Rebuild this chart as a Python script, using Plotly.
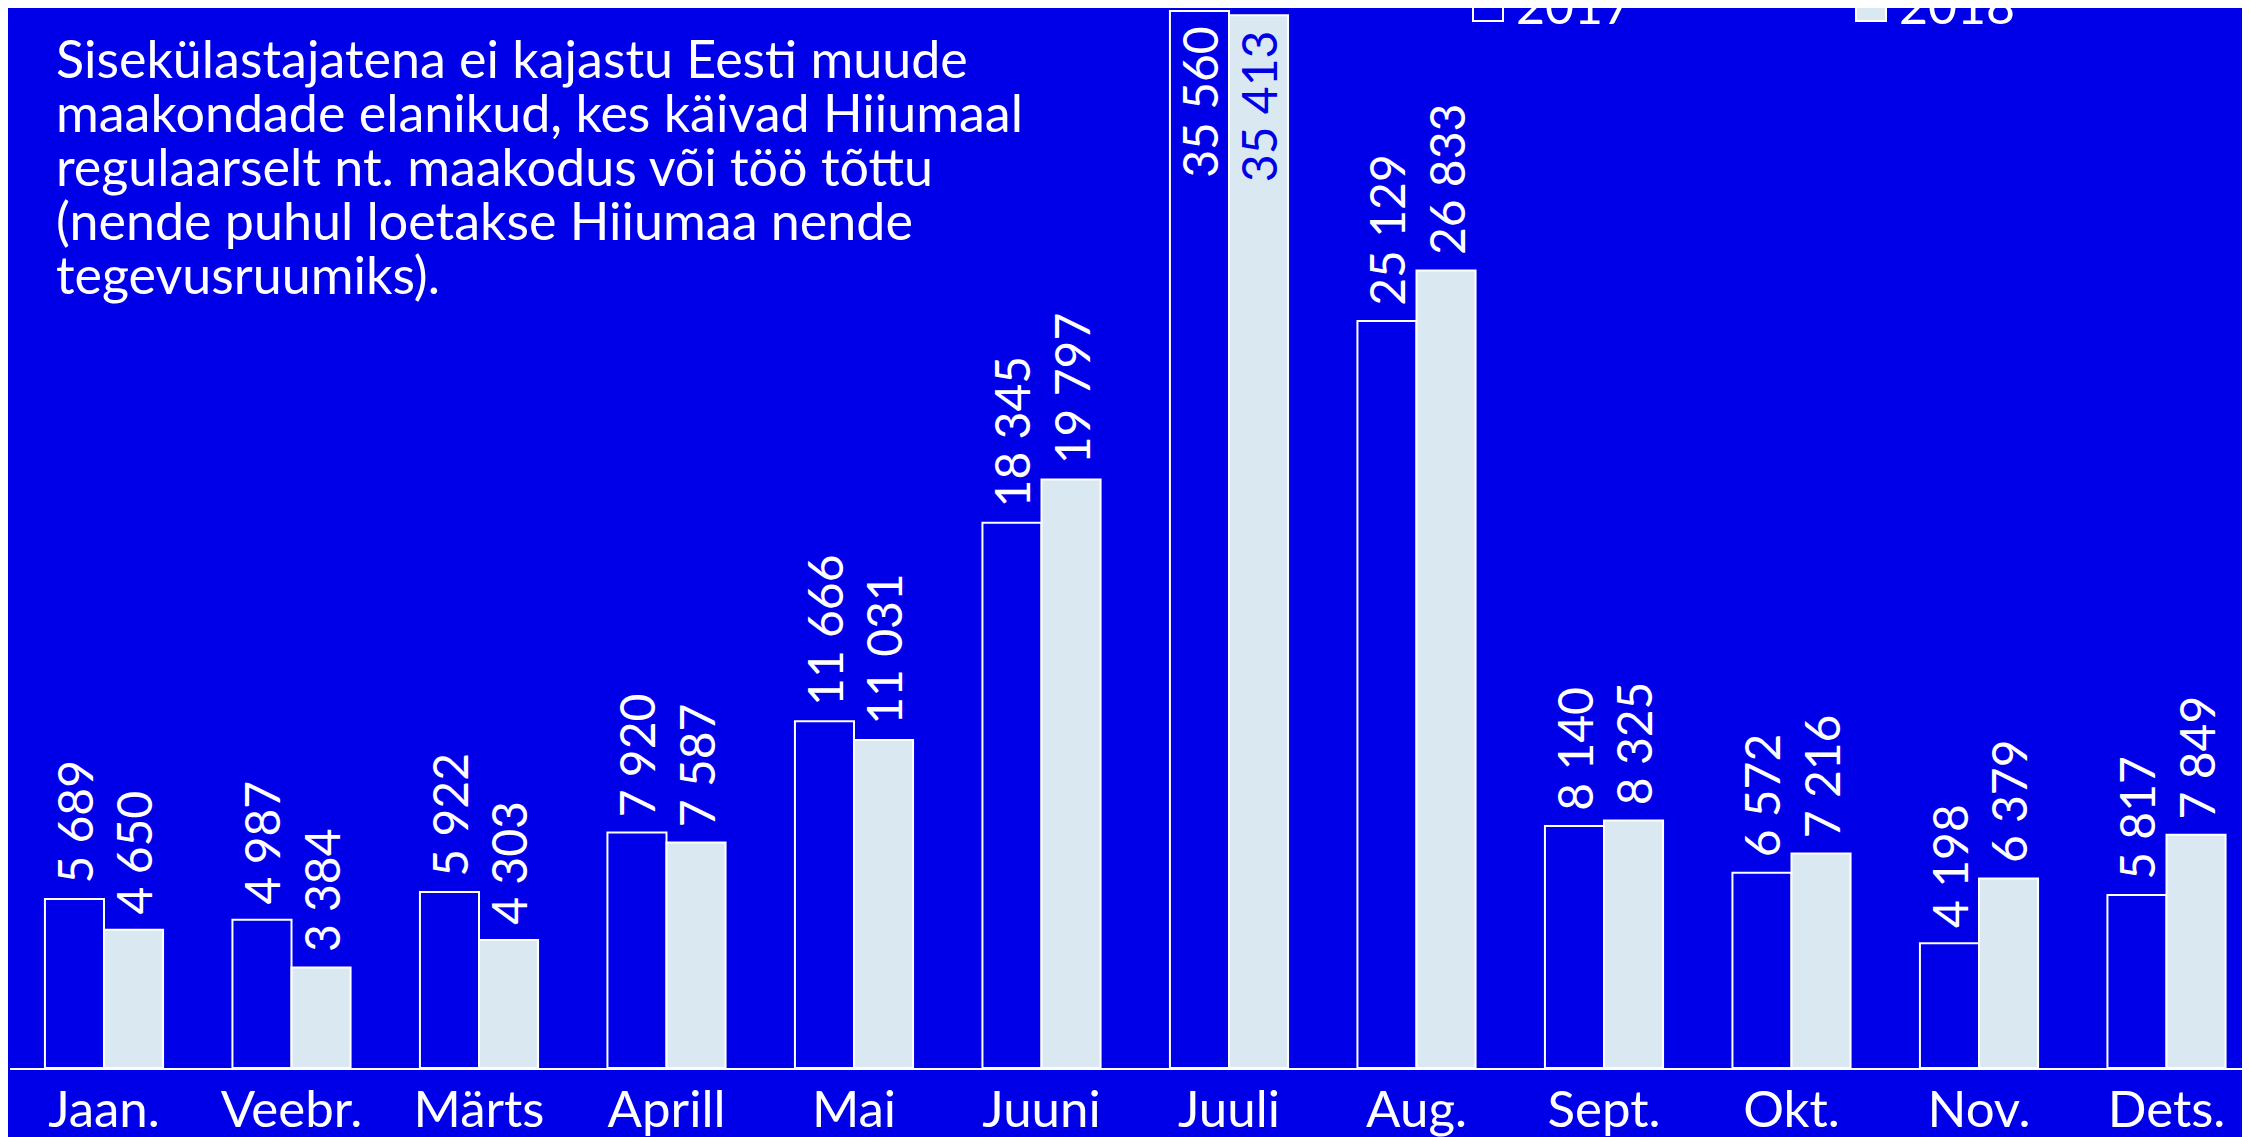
import plotly.graph_objects as go

months = ["Jaan.", "Veebr.", "Märts", "Aprill", "Mai", "Juuni", "Juuli", "Aug.", "Sept.", "Okt.", "Nov.", "Dets."]
y2017 = [5689, 4987, 5922, 7920, 11666, 18345, 35560, 25129, 8140, 6572, 4198, 5817]
y2018 = [4650, 3384, 4303, 7587, 11031, 19797, 35413, 26833, 8325, 7216, 6379, 7849]
series_names = ["2017", "2018"]
note_lines = [
    "Sisekülastajatena ei kajastu Eesti muude",
    "maakondade elanikud, kes käivad Hiiumaal",
    "regulaarselt nt. maakodus või töö tõttu",
    "(nende puhul loetakse Hiiumaa nende",
    "tegevusruumiks).",
]

BG = "rgb(0,0,232)"
LIGHT = "rgb(218,232,241)"
WHITE = "white"
FONT = "Lato"

OFF = 8  # page offset of the figure (body margin)
W, H = 2250, 1137
ML, MR, MT = 2, 0, 0
BASE_PAGE = 1068
MB = H - (BASE_PAGE - OFF)
PW, PH = W - ML - MR, H - MT - MB
STEP = 187.5
CENTER0_PAGE = 104


def px(x):
    return (x - OFF - ML) / PW


def py(y):
    return (H - MB - (y - OFF)) / PH


ymax = max(y2017 + y2018)
big = ymax * 0.9  # labels placed inside for the tallest month


def templates(vals):
    return ["%{y:,}\u00a0" if v > big else "\u00a0%{y:,}" for v in vals]


def positions(vals):
    return ["inside" if v > big else "outside" for v in vals]


fig = go.Figure()
fig.add_trace(go.Bar(
    x=months, y=y2017, name=series_names[0],
    marker=dict(color=BG, line=dict(color=WHITE, width=2)),
    texttemplate=templates(y2017), textposition=positions(y2017),
    insidetextanchor="end", textangle=-90, constraintext="none",
    textfont=dict(family=FONT, size=48, color=WHITE),
    cliponaxis=False, showlegend=False,
))
fig.add_trace(go.Bar(
    x=months, y=y2018, name=series_names[1],
    marker=dict(color=LIGHT, line=dict(color=WHITE, width=2)),
    texttemplate=templates(y2018), textposition=positions(y2018),
    insidetextanchor="end", textangle=-90, constraintext="none",
    textfont=dict(family=FONT, size=48,
                  color=[BG if v > big else WHITE for v in y2018]),
    cliponaxis=False, showlegend=False,
))

shapes = []
annotations = []

# manual legend
leg = [(1473, BG, series_names[0], 1517),
       (1856, LIGHT, series_names[1], 1900)]
for sx, fill, label, tx in leg:
    shapes.append(dict(type="rect", xref="paper", yref="paper",
                       x0=px(sx), x1=px(sx + 30), y0=py(21), y1=py(-15),
                       fillcolor=fill, line=dict(color=WHITE, width=2)))
    annotations.append(dict(text=label, xref="paper", yref="paper",
                            x=px(tx - 3), y=py(22 - 17), xanchor="left", yanchor="middle",
                            showarrow=False, font=dict(family=FONT, size=50, color=WHITE)))

# note
for i, line in enumerate(note_lines):
    base = 75 + i * 54
    annotations.append(dict(text=line, xref="paper", yref="paper",
                            x=px(54), y=py(base - 17), xanchor="left", yanchor="middle",
                            showarrow=False, font=dict(family=FONT, size=52, color=WHITE)))

x0 = -(CENTER0_PAGE - OFF - ML) / STEP
fig.update_layout(
    width=W, height=H,
    margin=dict(l=ML, r=MR, t=MT, b=MB, autoexpand=False),
    paper_bgcolor=BG, plot_bgcolor=BG,
    barmode="group", bargap=0.37, bargroupgap=0,
    separators=", ",
    font=dict(family=FONT, color=WHITE),
    shapes=shapes, annotations=annotations,
    xaxis=dict(range=[x0, x0 + PW / STEP], showgrid=False, zeroline=False,
               showline=True, linecolor=WHITE, linewidth=2, ticks="",
               ticklabelstandoff=-4,
               tickfont=dict(family=FONT, size=51, color=WHITE)),
    yaxis=dict(range=[0, 35560 * PH / (BASE_PAGE - 11)], visible=False,
               showgrid=False, zeroline=False),
)

fig.write_html("out.html")
